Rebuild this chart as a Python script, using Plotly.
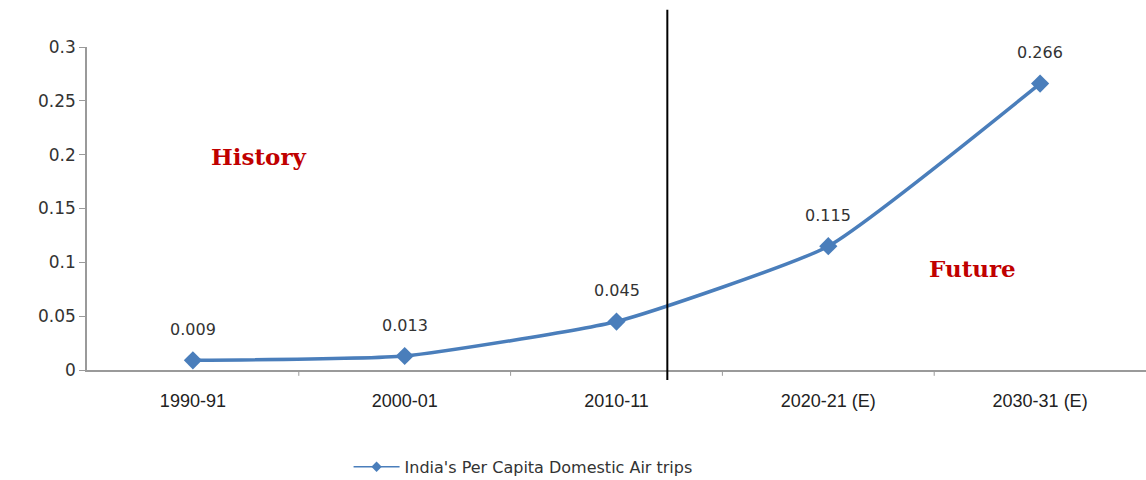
import plotly.graph_objects as go

categories = ["1990-91", "2000-01", "2010-11", "2020-21 (E)", "2030-31 (E)"]
values = [0.009, 0.013, 0.045, 0.115, 0.266]
value_labels = ["0.009", "0.013", "0.045", "0.115", "0.266"]
series_name = "India's Per Capita Domestic Air trips"
y_ticks = [0, 0.05, 0.1, 0.15, 0.2, 0.25, 0.3]
y_tick_labels = ["0", "0.05", "0.1", "0.15", "0.2", "0.25", "0.3"]

blue = "#4A7EBB"
xi = list(range(len(categories)))

fig = go.Figure()
fig.add_trace(go.Scatter(
    x=xi, y=values, mode="lines+markers", name=series_name, showlegend=False,
    line=dict(color=blue, width=3.5, shape="spline", smoothing=0.45),
    marker=dict(symbol="diamond", size=14, color=blue),
    cliponaxis=False,
))
# legend entry with the small symbol, as in the reference
fig.add_trace(go.Scatter(
    x=[None], y=[None], mode="lines+markers", name=series_name,
    line=dict(color=blue, width=1.5),
    marker=dict(symbol="diamond", size=8, color=blue),
))

for x, v, lab in zip(xi, values, value_labels):
    fig.add_annotation(x=x, y=v, xref="x", yref="y", text=lab, showarrow=False,
                       yshift=31, font=dict(family="DejaVu Sans", size=16, color="#333333"))

fig.update_layout(
    width=1146, height=480,
    margin=dict(l=87, r=0, t=47, b=110, autoexpand=False),
    paper_bgcolor="white", plot_bgcolor="white",
    showlegend=True,
    legend=dict(orientation="h", x=0.247, xanchor="left", y=-0.30, yanchor="middle",
                font=dict(family="DejaVu Sans", size=16, color="#333333"), itemwidth=46),
    xaxis=dict(
        range=[-0.5, 4.5], tickmode="array", tickvals=xi, ticktext=categories,
        showgrid=False, zeroline=False, showline=True, linecolor="#9a9a9a", linewidth=1.5,
        ticks="", tickfont=dict(family="Liberation Sans Narrow, Arial Narrow, sans-serif", size=18, color="#222222"),
        ticklabelstandoff=14,
    ),
    yaxis=dict(
        range=[0, 0.3], tickmode="array", tickvals=y_ticks, ticktext=y_tick_labels,
        showgrid=False, zeroline=False, showline=True, linecolor="#9a9a9a", linewidth=1.5,
        ticks="outside", ticklen=6, tickcolor="#9a9a9a",
        tickfont=dict(family="DejaVu Sans", size=17, color="#333333"),
    ),
)

# boundary ticks on x axis
for b in [0.5, 1.5, 2.5, 3.5]:
    fig.add_shape(type="line", xref="x", yref="paper", x0=b, x1=b, y0=0, y1=-0.018,
                  line=dict(color="#9a9a9a", width=1))

# divider line between history and future
fig.add_shape(type="line", xref="x", yref="paper", x0=2.24, x1=2.24, y0=-0.031, y1=1.115,
              line=dict(color="black", width=2))

fig.add_annotation(x=0.31, y=0.198, xref="x", yref="y", text="<b>History</b>", showarrow=False,
                   font=dict(family="DejaVu Serif, Liberation Serif, serif", size=23, color="#C00000"))
fig.add_annotation(x=3.68, y=0.094, xref="x", yref="y", text="<b>Future</b>", showarrow=False,
                   font=dict(family="DejaVu Serif, Liberation Serif, serif", size=23, color="#C00000"))

fig.write_html("out.html")
